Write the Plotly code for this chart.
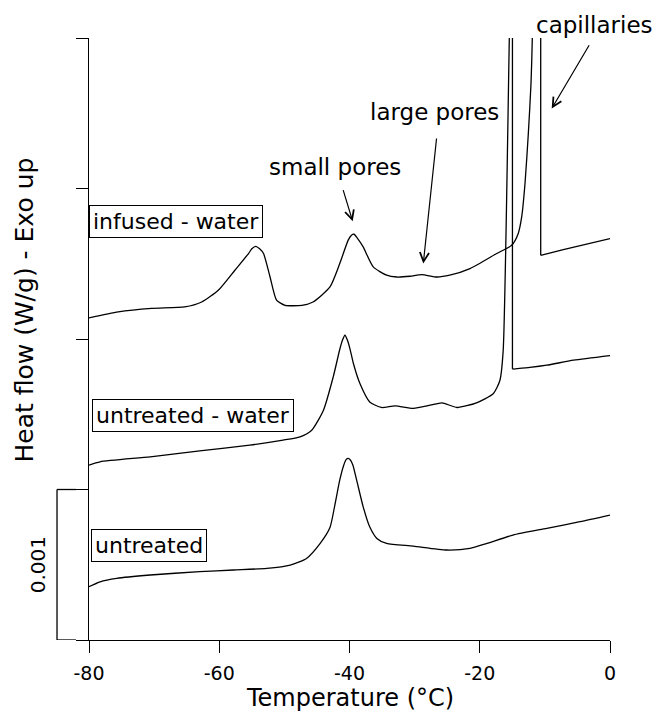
import plotly.graph_objects as go

# DSC cooling scans: heat flow in mW/g (converted to W/g for plotting)
untreated_T = [-80, -78.3, -75.75, -70.6, -63.0, -57.8, -52.7, -49.1, -46.6, -44.5,
               -43.0, -42.2, -41.5, -40.9, -40.5, -40.2, -39.9, -39.5, -38.9, -37.9,
               -36.9, -35.8, -34.3, -30.2, -25.1, -21.5, -18.9, -14.9, -9.7, -4.6, 0]
untreated_hf = [0.354, 0.387, 0.410, 0.432, 0.454, 0.465, 0.476, 0.498, 0.542, 0.642,
                0.747, 0.908, 1.062, 1.160, 1.200, 1.207, 1.198, 1.165, 1.062, 0.885,
                0.752, 0.675, 0.642, 0.624, 0.598, 0.609, 0.642, 0.697, 0.742, 0.786, 0.830]

untreated_water_T = [-80, -78.3, -70.6, -63.0, -55.3, -50.2, -47.6, -45.8, -44.0, -42.5,
                     -41.5, -41.1, -40.7, -40.3, -39.9, -39.4, -38.4, -36.9, -35.1, -33.0,
                     -30.2, -27.6, -25.8, -23.5, -20.5, -17.9, -16.9, -16.4, -15.46, -15.1,
                     -14.98, -14.98, -14.5, -12.3, -9.7, -5.6, 0]
untreated_water_hf = [1.162, 1.184, 1.217, 1.257, 1.295, 1.328, 1.350, 1.394, 1.527, 1.748,
                      1.930, 1.990, 2.025, 1.990, 1.930, 1.837, 1.704, 1.582, 1.545, 1.556,
                      1.539, 1.560, 1.576, 1.545, 1.576, 1.638, 1.726, 1.926, 4.000, 4.800,
                      4.800, 1.800, 1.802, 1.811, 1.826, 1.859, 1.890]

infused_water_T = [-80, -75.5, -70.4, -65.3, -62.7, -60.15, -57.6, -55.5, -55.0, -54.4,
                   -53.8, -53.2, -52.2, -51.2, -49.9, -47.3, -45.6, -43.0, -41.5, -40.2,
                   -39.7, -39.3, -38.8, -37.9, -36.35, -34.3, -32.75, -30.7, -28.9, -26.6,
                   -24.6, -21.5, -17.4, -15.1, -14.1, -13.56, -13.05, -12.54, -12.13, -11.93,
                   -11.8, -10.64, -10.64, -7.17, 0]
infused_water_hf = [2.140, 2.180, 2.203, 2.213, 2.246, 2.324, 2.457, 2.568, 2.600, 2.616,
                    2.600, 2.568, 2.412, 2.258, 2.224, 2.224, 2.246, 2.346, 2.501, 2.657,
                    2.690, 2.696, 2.670, 2.612, 2.479, 2.424, 2.412, 2.417, 2.428, 2.412,
                    2.424, 2.468, 2.568, 2.623, 2.700, 2.811, 3.033, 3.365, 3.697, 4.000,
                    4.800, 4.800, 2.556, 2.594, 2.667]

x_ticks = [-80, -60, -40, -20, 0]
y_ticks = [0, 0.001, 0.002, 0.003, 0.004]
scale_bar = 0.001

FONT = "DejaVu Sans"
INK = "black"


def to_wg(values):
    return [v / 1000.0 for v in values]


def add_curve(fig, T, hf):
    """Smooth curve, but keep the abrupt freezing drop (equal T values) as sharp corners."""
    y = to_wg(hf)
    drops = [i for i in range(len(T) - 1) if T[i] == T[i + 1]]
    pieces = []
    start = 0
    for i in drops:
        pieces.append((start, i, "spline"))       # smooth part up to top of the spike
        pieces.append((i - 1, i + 2, "linear"))    # spike top, vertical drop, corner
        start = i + 1
    pieces.append((start, len(T), "spline"))
    for a, b, shape in pieces:
        line = dict(color=INK, width=1.3, shape=shape)
        if shape == "spline":
            line["smoothing"] = 0.6
        fig.add_trace(go.Scatter(x=T[a:b], y=y[a:b], mode="lines", line=line,
                                 showlegend=False, hoverinfo="skip"))


fig = go.Figure()
add_curve(fig, untreated_T, untreated_hf)
add_curve(fig, untreated_water_T, untreated_water_hf)
add_curve(fig, infused_water_T, infused_water_hf)

annotations = []

# boxed curve labels
for text, x, y in [("infused - water", -66.6, 0.002778),
                   ("untreated - water", -64.1, 0.001494),
                   ("untreated", -70.8, 0.000629)]:
    annotations.append(dict(x=x, y=y, xref="x", yref="y", text=text, showarrow=False,
                            xanchor="center", yanchor="middle",
                            font=dict(family=FONT, size=22, color=INK),
                            bordercolor=INK, borderwidth=1, borderpad=3,
                            bgcolor="white"))

# pore annotations: label text (paper position) plus an arrow pointing at the feature
for text, tx, ty in [("small pores", 0.4727, 0.7857),
                     ("large pores", 0.6641, 0.8771),
                     ("capillaries", 0.9693, 1.0216)]:
    annotations.append(dict(x=tx, y=ty, xref="paper", yref="paper", text=text,
                            showarrow=False, xanchor="center", yanchor="middle",
                            font=dict(family=FONT, size=23, color=INK)))

for (hx, hy), (ax, ay) in [((-39.51, 0.002782), (-41.04, 0.002999)),
                           ((-28.67, 0.002501), (-26.61, 0.003342)),
                           ((-8.95, 0.003531), (-3.07, 0.003962))]:
    annotations.append(dict(x=hx, y=hy, xref="x", yref="y", ax=ax, ay=ay,
                            axref="x", ayref="y", text="", showarrow=True,
                            arrowhead=5, arrowsize=1.5, arrowwidth=1.2,
                            arrowcolor=INK, standoff=0, startstandoff=0))

# axis titles
annotations.append(dict(x=-0.1228, y=0.5473, xref="paper", yref="paper",
                        text="Heat flow (W/g) - Exo up", textangle=-90,
                        showarrow=False, xanchor="center", yanchor="middle",
                        font=dict(family=FONT, size=25, color=INK)))
annotations.append(dict(x=0.5, y=-0.097, xref="paper", yref="paper",
                        text="Temperature (°C)", showarrow=False,
                        xanchor="center", yanchor="middle",
                        font=dict(family=FONT, size=24, color=INK)))

# scale bar label
annotations.append(dict(x=-0.0987, y=scale_bar / 2, xref="paper", yref="y",
                        text=f"{scale_bar:g}", textangle=-90, showarrow=False,
                        xanchor="center", yanchor="middle",
                        font=dict(family=FONT, size=20, color=INK)))

shapes = [
    dict(type="line", xref="paper", yref="y", x0=-0.0614, x1=-0.0614, y0=0, y1=scale_bar,
         line=dict(color=INK, width=1.3)),
    dict(type="line", xref="paper", yref="y", x0=-0.0614, x1=-0.025, y0=scale_bar, y1=scale_bar,
         line=dict(color=INK, width=1.3)),
    dict(type="line", xref="paper", yref="y", x0=-0.0614, x1=-0.025, y0=0, y1=0,
         line=dict(color=INK, width=1.3)),
]

fig.update_layout(
    width=655, height=712,
    margin=dict(l=89, r=45, t=38, b=72),
    paper_bgcolor="white", plot_bgcolor="white",
    annotations=annotations, shapes=shapes,
    xaxis=dict(range=[-80, 0], tickvals=x_ticks, ticktext=[str(v) for v in x_ticks],
               showgrid=False, zeroline=False, showline=True, linecolor=INK, linewidth=1.3,
               ticks="outside", ticklen=12, tickwidth=1.3, tickcolor=INK,
               ticklabelstandoff=4,
               tickfont=dict(family=FONT, size=19, color=INK)),
    yaxis=dict(range=[0, 0.004], tickvals=y_ticks, showticklabels=False,
               showgrid=False, zeroline=False, showline=True, linecolor=INK, linewidth=1.3,
               ticks="outside", ticklen=12, tickwidth=1.3, tickcolor=INK),
)

fig.write_html("out.html")
